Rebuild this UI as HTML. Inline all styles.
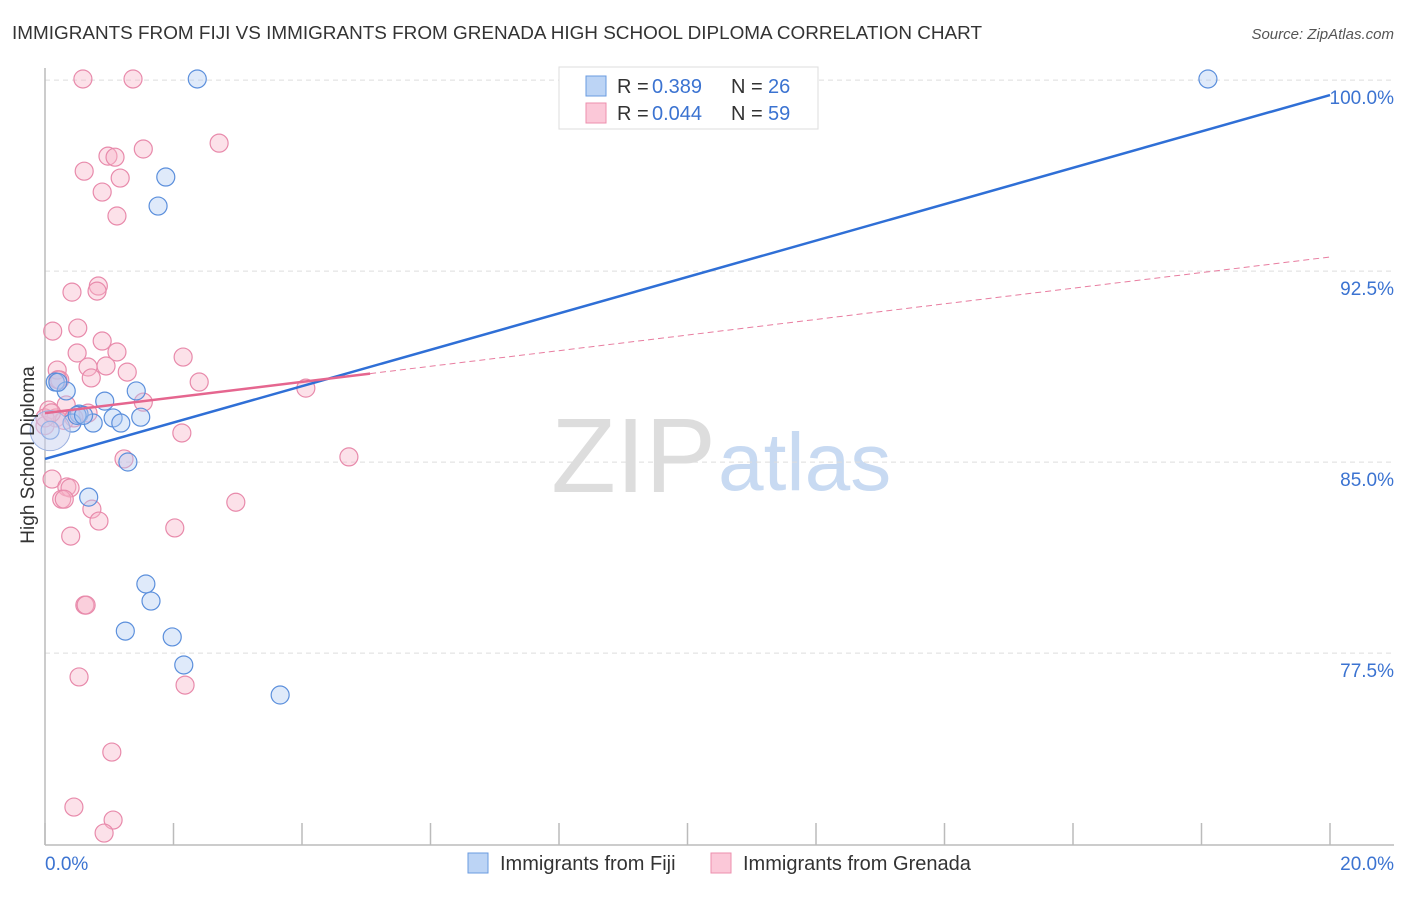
<!DOCTYPE html>
<html><head><meta charset="utf-8">
<style>
body{margin:0;background:#fff;font-family:"Liberation Sans",sans-serif;}
svg text{font-family:"Liberation Sans",sans-serif;}
</style></head>
<body>
<svg id="chart" width="1406" height="892">
<text x="12" y="39" font-size="18" fill="#333" textLength="970" lengthAdjust="spacingAndGlyphs">IMMIGRANTS FROM FIJI VS IMMIGRANTS FROM GRENADA HIGH SCHOOL DIPLOMA CORRELATION CHART</text>
<text x="1394" y="39" font-size="15" fill="#555" font-style="italic" text-anchor="end">Source: ZipAtlas.com</text>
<text x="716" y="492" font-size="106" fill="#ddd" text-anchor="end" font-family="Liberation Serif">ZIP</text>
<text x="718" y="490" font-size="82" fill="#c8daf2">atlas</text>
<g id="grid"></g>
<g id="axes"></g>
<g id="lines"></g>
<g id="pts"></g>
<text transform="translate(34,455) rotate(-90)" font-size="19" fill="#333" text-anchor="middle">High School Diploma</text>
<text x="45" y="870" font-size="19" fill="#3b73d1">0.0%</text>
<text x="1394" y="870" font-size="19" fill="#3b73d1" text-anchor="end">20.0%</text>
<g>
<rect x="559" y="67" width="259" height="62" fill="#fff" stroke="#ddd"/>
<rect x="586" y="76" width="20" height="20" fill="#bcd4f5" stroke="#6a9be0"/>
<rect x="586" y="103" width="20" height="20" fill="#fbc8d8" stroke="#ec8fae"/>
<text x="617" y="93" font-size="20" fill="#333">R = <tspan x="652" fill="#3b73d1">0.389</tspan><tspan x="731">N = </tspan><tspan x="768" fill="#3b73d1">26</tspan></text>
<text x="617" y="120" font-size="20" fill="#333">R = <tspan x="652" fill="#3b73d1">0.044</tspan><tspan x="731">N = </tspan><tspan x="768" fill="#3b73d1">59</tspan></text>
</g>
<g>
<rect x="468" y="853" width="20" height="20" fill="#bcd4f5" stroke="#6a9be0"/>
<text x="500" y="870" font-size="20" fill="#333">Immigrants from Fiji</text>
<rect x="711" y="853" width="20" height="20" fill="#fbc8d8" stroke="#ec8fae"/>
<text x="743" y="870" font-size="20" fill="#333">Immigrants from Grenada</text>
</g>
</svg>
<script>
const yTicks=[100,92.5,85,77.5];
const yTickLabels=["100.0%","92.5%","85.0%","77.5%"];
const fijiX=[2.37,18.10,1.88,1.76,0.16,0.33,1.42,0.93,0.53,1.06,1.49,0.42,0.75,1.18,0.08,1.29,0.68,1.57,1.65,1.25,1.98,2.16,3.66,0.50,0.20,0.60];
const fijiY=[100.71,100.71,96.86,95.72,88.81,88.46,88.46,88.06,87.55,87.40,87.43,87.20,87.20,87.20,86.92,85.67,84.29,80.88,80.21,79.03,78.80,77.70,76.52,87.5,88.8,87.5];
const grenX=[0.59,1.37,2.71,1.53,0.98,1.09,0.61,1.17,0.89,1.12,0.83,0.81,0.42,0.12,0.51,0.89,0.50,1.12,2.15,0.95,0.67,0.19,1.28,0.72,0.23,2.40,4.06,1.53,0.33,0.67,0.06,0.17,2.13,1.23,4.73,0.11,0.34,0.39,0.26,0.30,0.73,2.97,0.84,2.02,0.40,0.62,0.64,0.53,2.18,1.04,0.45,1.06,0.92,0.0,0.0,0.20,0.30,0.10,0.45];
const grenY=[100.71,100.71,98.19,97.96,97.68,97.64,97.09,96.82,96.27,95.33,92.58,92.38,92.34,90.81,90.93,90.42,89.95,89.99,89.79,89.44,89.40,89.28,89.20,88.97,88.89,88.81,88.57,88.02,87.91,87.59,87.71,87.40,86.81,85.79,85.87,85.00,84.69,84.65,84.21,84.21,83.82,84.09,83.35,83.08,82.76,80.05,80.05,77.23,76.91,74.28,72.12,71.61,71.10,87.1,87.4,88.9,87.3,87.6,87.4];
const fijiLine=[85.79,100.08];
const grenLine=[87.59,93.72];
const grenSolidEnd=5.06;
const X=v=>45+v/20*1285;
const Y=v=>80+(100.67-v)/7.5*191;
const NS="http://www.w3.org/2000/svg";
function mk(tag,attrs,parent){const e=document.createElementNS(NS,tag);for(const k in attrs)e.setAttribute(k,attrs[k]);document.getElementById(parent).appendChild(e);return e;}
yTicks.forEach((t,i)=>{
 const g=mk('line',{x1:45,x2:1394,y1:Y(t)-17,y2:Y(t)-17,stroke:'#ddd','stroke-dasharray':'5,4'},'grid');
 
 
 const l=mk('text',{x:1394,y:Y(t)+7,'font-size':19,fill:'#3b73d1','text-anchor':'end'},'grid');
 l.textContent=yTickLabels[i];
 
 
});
const ax=mk('line',{x1:45,x2:45,y1:68,y2:845,stroke:'#bbb','stroke-width':1.5},'axes');


const bx=mk('line',{x1:45,x2:1394,y1:845,y2:845,stroke:'#bbb','stroke-width':1.5},'axes');


for(let i=0;i<=10;i++){const t=mk('line',{x1:X(i*2),x2:X(i*2),y1:823,y2:845,stroke:'#bbb','stroke-width':1.5},'axes');
 
 }
const gs=(grenLine[1]-grenLine[0])/20;
const d1=mk('line',{x1:X(grenSolidEnd),y1:Y(grenLine[0]+gs*grenSolidEnd),x2:X(20),y2:Y(grenLine[1]),stroke:'#e87da0','stroke-width':1,'stroke-dasharray':'6,4'},'lines');


function circ(x,y,fill,stroke,name){const c=mk('circle',{cx:X(x),cy:Y(y),r:9,fill:fill,'fill-opacity':0.4,stroke:stroke,'stroke-width':1.2},'pts');
 
 }
grenX.forEach((x,i)=>circ(x,grenY[i],'#f7b3c8','#e88aab','grenada-point'));
fijiX.forEach((x,i)=>circ(x,fijiY[i],'#aecbf2','#5b8fdc','fiji-point'));
const big=mk('circle',{cx:X(0.08),cy:Y(86.9),r:20,fill:'#c9d2ef','fill-opacity':0.5,stroke:'#9ab0e0'},'pts');


const b=mk('line',{x1:X(0),y1:Y(fijiLine[0]),x2:X(20),y2:Y(fijiLine[1]),stroke:'#2f6fd6','stroke-width':2.5},'lines');


const p=mk('line',{x1:X(0),y1:Y(grenLine[0]),x2:X(grenSolidEnd),y2:Y(grenLine[0]+gs*grenSolidEnd),stroke:'#e5668f','stroke-width':2.5},'lines');


document.getElementById('lines').parentNode.appendChild(document.getElementById('lines'));
</script>
</body></html>
